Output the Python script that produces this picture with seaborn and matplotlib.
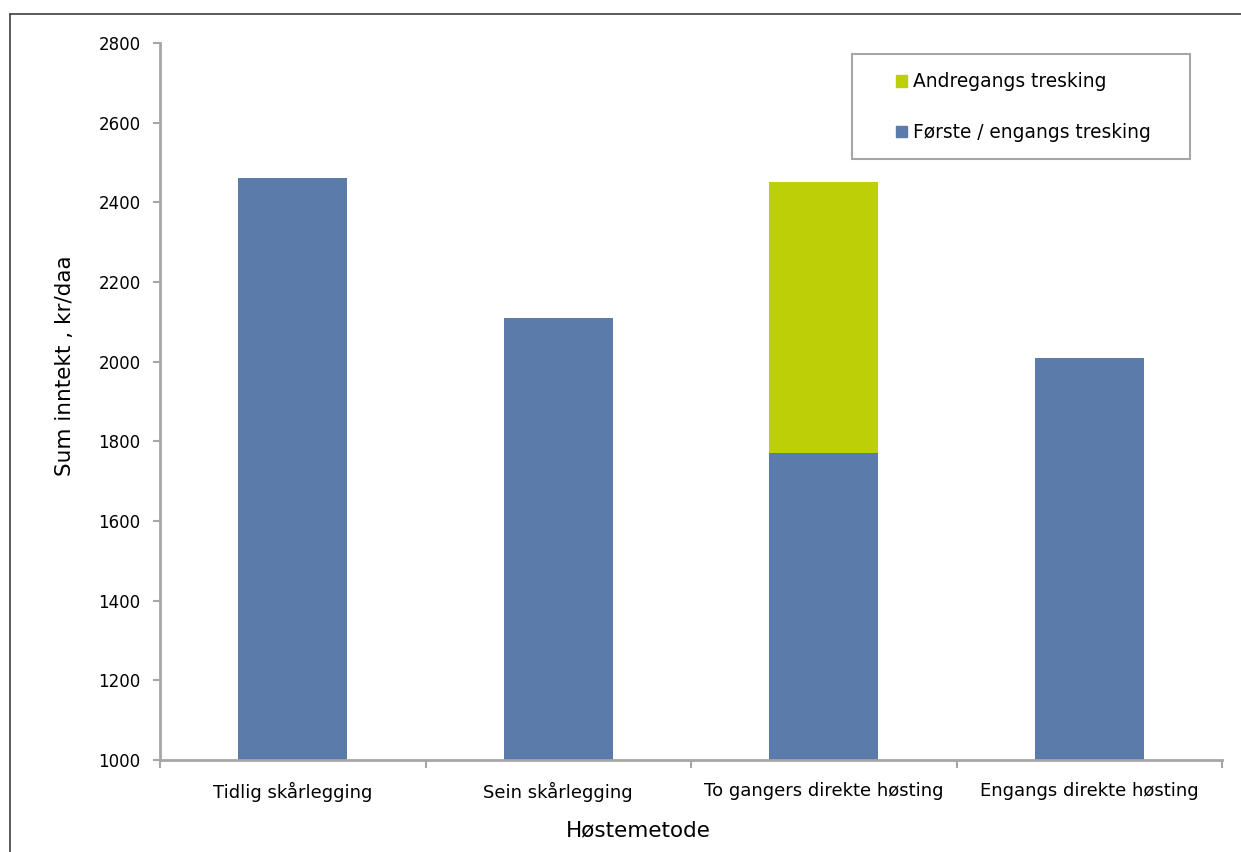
import numpy as np
import pandas as pd
import seaborn as sns
import matplotlib
matplotlib.use('agg')
import matplotlib.pyplot as plt
from matplotlib.patches import Patch, Rectangle
from matplotlib.lines import Line2D

# data
metoder = ["Tidlig skårlegging", "Sein skårlegging",
           "To gangers direkte høsting", "Engangs direkte høsting"]
forste = [2460, 2110, 1770, 2010]
andre = [0, 0, 680, 0]
yticks = [1000, 1200, 1400, 1600, 1800, 2000, 2200, 2400, 2600, 2800]

blue = "#5B7BAB"
green = "#BDCF07"
grey = "#A6A6A6"

df = pd.DataFrame({"metode": metoder, "forste": forste, "andre": andre})
df["sum"] = df["forste"] + df["andre"]

sns.set_theme(style="white")
plt.rcParams['font.family'] = ['DejaVu Sans']
plt.rcParams['text.color'] = 'black'
plt.rcParams['axes.labelcolor'] = 'black'

fig = plt.figure(figsize=(12.41, 8.52), dpi=100)
ax = fig.add_axes([160 / 1241, 1 - 760 / 852, 1062 / 1241, 717 / 852])

# stacked bars: total in green, first threshing in blue on top
sns.barplot(data=df, x="metode", y="sum", color=green, width=0.41,
            saturation=1, linewidth=0, ax=ax)
sns.barplot(data=df, x="metode", y="forste", color=blue, width=0.41,
            saturation=1, linewidth=0, ax=ax)

ax.set_ylim(1000, 2800)
ax.set_yticks(yticks)
ax.set_xlim(-0.5, len(metoder) - 0.5)

for side in ["top", "right"]:
    ax.spines[side].set_visible(False)
for side in ["left", "bottom"]:
    ax.spines[side].set_color(grey)
    ax.spines[side].set_linewidth(2)

ax.tick_params(axis="y", left=True, length=5, width=1.5, color=grey,
               labelsize=12, pad=9, labelcolor="black")
ax.tick_params(axis="x", which="major", bottom=False, labelsize=13,
               pad=10, labelcolor="black")
ax.set_xticks(np.arange(-0.5, len(metoder)), minor=True)
ax.tick_params(axis="x", which="minor", bottom=True, length=6, width=1.5,
               color=grey)

ax.set_ylabel("Sum inntekt , kr/daa", fontsize=15.5)
ax.yaxis.set_label_coords(-0.08, 0.55)
ax.set_xlabel("Høstemetode", fontsize=15.5)
ax.xaxis.set_label_coords(0.45, -0.084)

handles = [Patch(color=green, label="Andregangs tresking"),
           Patch(color=blue, label="Første / engangs tresking")]
ax.legend(handles=handles, loc="upper left", bbox_to_anchor=(0.684, 0.972),
          frameon=False, borderpad=0, fontsize=13.4, handlelength=0.6,
          handleheight=0.6, handletextpad=0.35, labelspacing=1.7)
ax.add_patch(Rectangle((0.652, 0.838), 0.318, 0.147, transform=ax.transAxes,
                       fill=False, edgecolor=grey, linewidth=1.5,
                       clip_on=False))

# outer chart frame (cut off at right and bottom)
fig.add_artist(Line2D([10 / 1241, 10 / 1241], [0, 1 - 14 / 852],
                      color="#404040", linewidth=1.2))
fig.add_artist(Line2D([10 / 1241, 1], [1 - 14 / 852, 1 - 14 / 852],
                      color="#404040", linewidth=1.2))

fig.savefig("out.png", dpi=100)
